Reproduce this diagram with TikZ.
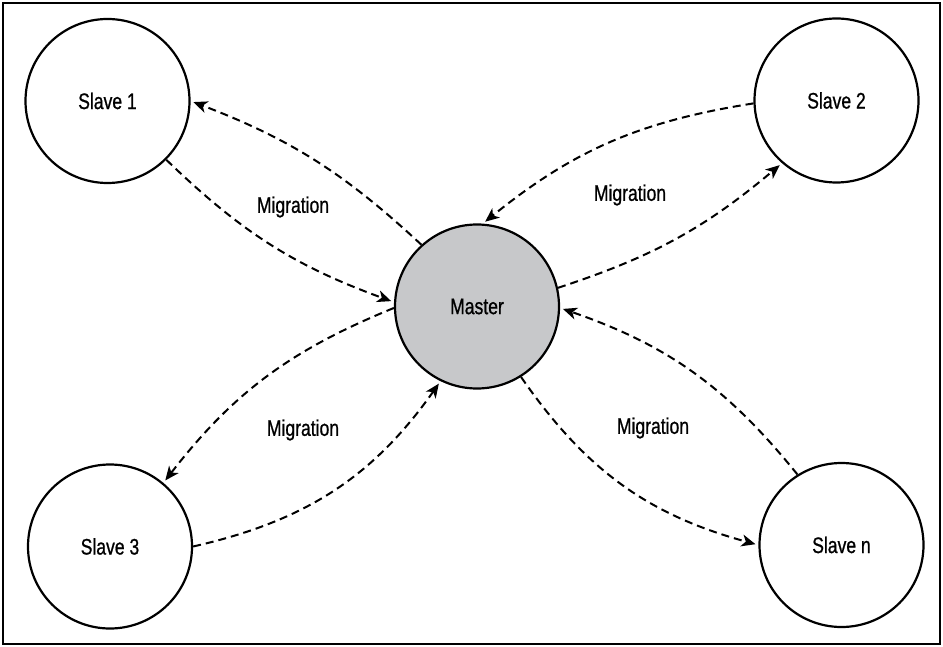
\documentclass[tikz,border=0pt]{standalone}
\usepackage{fontspec}
\setmainfont{Liberation Sans}[FakeStretch=0.78,FakeBold=0.8]
\usetikzlibrary{arrows.meta}
\definecolor{mastergray}{RGB}{199,200,202}
\begin{document}
\begin{tikzpicture}[x=1pt,y=-1pt,
  peer/.style={circle,draw=black,line width=2.2pt,minimum size=164pt,inner sep=0pt,
    font=\fontsize{22.5}{26}\selectfont},
  mig/.style={draw=black,line width=2pt,dash pattern=on 8pt off 5pt,
    -{Stealth[length=14pt,width=12pt,inset=4pt]},shorten >=3pt},
  lbl/.style={font=\fontsize{22.5}{26}\selectfont}]
\useasboundingbox (0,0) rectangle (943,647);
\draw[line width=1.6pt] (3,3) rectangle (940,644);
\node[peer] (s1) at (107.5,101) {Slave 1};
\node[peer] (s2) at (836.5,100.5) {Slave 2};
\node[peer] (s3) at (110,546.5) {Slave 3};
\node[peer] (sn) at (841.5,545) {Slave n};
\node[peer,fill=mastergray] (m) at (477,306.5) {Master};
% Slave 1 pair
\draw[mig] (m.132) to[bend right=11] (s1.0);
\draw[mig] (s1.-45) to[bend right=12] (m.177);
% Slave 2 pair
\draw[mig] (s2.182) to[bend right=15] (m.86);
\draw[mig] (m.13) to[bend right=11] (s2.229);
% Slave 3 pair
\draw[mig] (m.181) to[bend right=15] (s3.50);
\draw[mig] (s3.0) to[bend right=21] (m.244);
% Slave n pair
\draw[mig] (m.-58) to[bend right=20] (sn.180);
\draw[mig] (sn.122) to[bend right=16] (m.-1);
\node[lbl] (l1) at (293,207) {Migration};
\node[lbl] (l2) at (630,195) {Migration};
\node[lbl] (l3) at (303,430) {Migration};
\node[lbl] (l4) at (653,428) {Migration};
\end{tikzpicture}
\end{document}
